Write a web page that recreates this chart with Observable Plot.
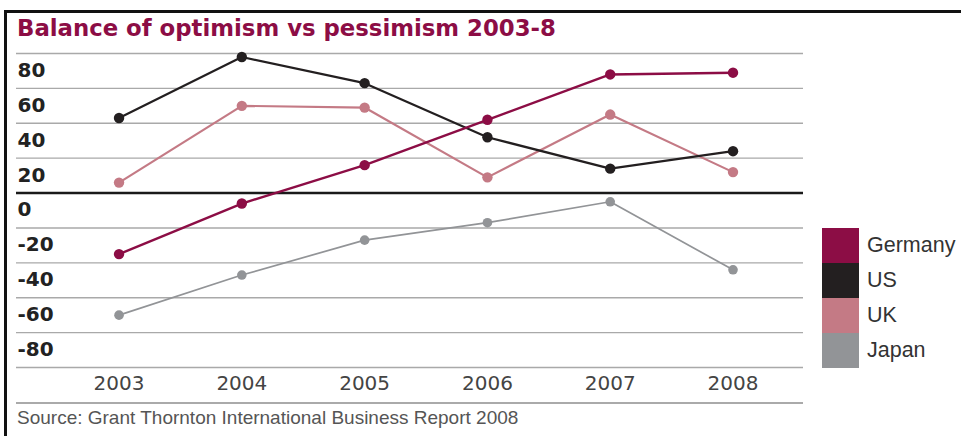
<!DOCTYPE html>
<html>
<head>
<meta charset="utf-8">
<script src="https://cdn.jsdelivr.net/npm/d3@7"></script>
<script src="https://cdn.jsdelivr.net/npm/@observablehq/plot@0.6"></script>
<style>
  html, body { margin: 0; padding: 0; background: #fff; }
  #wrap { position: relative; width: 961px; height: 436px; overflow: hidden; background: #fff; }
  #wrap svg { position: absolute; left: 0; top: 0; }
  .border-top { position: absolute; left: 4px; top: 10px; width: 957px; height: 2.5px; background: #111; }
  .border-left { position: absolute; left: 4px; top: 10px; width: 2.5px; height: 426px; background: #111; }
  .title { position: absolute; left: 17px; top: 15px; font-family: "DejaVu Sans", sans-serif; font-weight: bold; font-size: 22.8px; color: #8c0d45; white-space: nowrap; }
  .bottom-rule { position: absolute; left: 16px; top: 402px; width: 787px; height: 1.5px; background: #aaa; }
  .source { position: absolute; left: 17px; top: 407px; font-family: "Liberation Sans", Arial, sans-serif; font-size: 19px; color: #555; white-space: nowrap; }
  .legend { position: absolute; left: 822px; top: 228px; }
  .legend .row { position: relative; height: 35px; }
  .legend .sw { position: absolute; left: 0; top: 0; width: 37px; height: 35px; }
  .legend .lb { position: absolute; left: 45px; top: 5px; font-family: "Liberation Sans", Arial, sans-serif; font-size: 21.5px; color: #333; white-space: nowrap; }
</style>
</head>
<body>
<div id="wrap"></div>
<script>
// ---- data ----
const years = [2003, 2004, 2005, 2006, 2007, 2008];
const germany = [-35, -6, 16, 42, 68, 69];
const us = [43, 78, 63, 32, 14, 24];
const uk = [6, 50, 49, 9, 45, 12];
const japan = [-70, -47, -27, -17, -5, -44];
const seriesNames = ["Germany", "US", "UK", "Japan"];
const seriesColors = ["#8c0d45", "#231f20", "#c47a85", "#929497"];
const yTicks = [80, 60, 40, 20, 0, -20, -40, -60, -80, -100];
const yLabels = [80, 60, 40, 20, 0, -20, -40, -60, -80];
const titleText = "Balance of optimism vs pessimism 2003-8";
const sourceText = "Source: Grant Thornton International Business Report 2008";

// ---- table ----
const seriesValues = { Germany: germany, US: us, UK: uk, Japan: japan };
const rows = [];
for (const name of seriesNames) {
  years.forEach((yr, i) => rows.push({ series: name, year: yr, value: seriesValues[name][i] }));
}
const drawOrder = ["Japan", "UK", "US", "Germany"];
const colorOf = Object.fromEntries(seriesNames.map((n, i) => [n, seriesColors[i]]));
const widthOf = { Germany: 2.4, US: 2.2, UK: 2.2, Japan: 1.7 };
const rOf = { Germany: 5.2, US: 5.2, UK: 5.2, Japan: 4.8 };

const marks = [
  Plot.ruleY(yTicks.filter(d => d !== 0), { stroke: "#a9a9a9", strokeWidth: 1.4 }),
  Plot.ruleY([0], { stroke: "#1a1a1a", strokeWidth: 2.4 }),
  Plot.text(yLabels, {
    y: d => d, text: d => String(d), frameAnchor: "left", textAnchor: "start",
    dx: 1, dy: 17, fontSize: 20, fontWeight: "bold", fill: "#222",
    fontFamily: "DejaVu Sans"
  }),
  Plot.text(years, {
    x: d => d, y: () => -100, text: d => String(d), dy: 16,
    fontSize: 20, fill: "#444", fontFamily: "DejaVu Sans"
  })
];
for (const name of drawOrder) {
  const data = rows.filter(r => r.series === name);
  marks.push(Plot.line(data, { x: "year", y: "value", stroke: colorOf[name], strokeWidth: widthOf[name] }));
  marks.push(Plot.dot(data, { x: "year", y: "value", fill: colorOf[name], r: rOf[name] }));
}

const chart = Plot.plot({
  width: 961,
  height: 436,
  marginLeft: 16,
  marginRight: 158,
  marginTop: 53,
  marginBottom: 69,
  x: { domain: [2002.165, 2008.574], axis: null },
  y: { domain: [-100, 80], axis: null },
  style: { background: "transparent", overflow: "visible" },
  marks
});

const wrap = document.getElementById("wrap");
wrap.appendChild(chart);

function add(cls, text) {
  const d = document.createElement("div");
  d.className = cls;
  if (text) d.textContent = text;
  wrap.appendChild(d);
  return d;
}
add("border-top");
add("border-left");
add("title", titleText);
add("bottom-rule");
add("source", sourceText);
const legend = add("legend");
seriesNames.forEach((n, i) => {
  const row = document.createElement("div");
  row.className = "row";
  const sw = document.createElement("div");
  sw.className = "sw";
  sw.style.background = seriesColors[i];
  const lb = document.createElement("div");
  lb.className = "lb";
  lb.textContent = n;
  row.appendChild(sw);
  row.appendChild(lb);
  legend.appendChild(row);
});
</script>
</body>
</html>
